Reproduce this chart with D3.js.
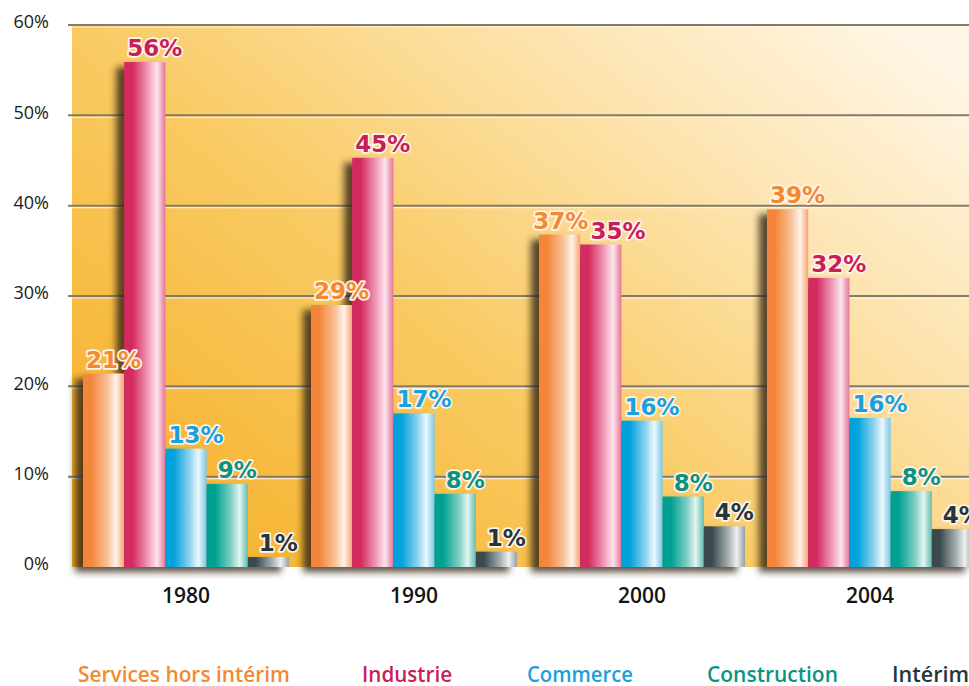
<!DOCTYPE html>
<html>
<head>
<meta charset="utf-8">
<script src="https://cdn.jsdelivr.net/npm/d3@7"></script>
<style>
  body { margin: 0; background: #fff; }
  svg { display: block; }
</style>
</head>
<body>
<svg id="chart"></svg>
<script>
// data
const years = ['1980', '1990', '2000', '2004'];
const series = ['Services hors intérim', 'Industrie', 'Commerce', 'Construction', 'Intérim'];
const services = [21.4, 29.0, 36.8, 39.6];
const industrie = [55.9, 45.3, 35.7, 32.0];
const commerce = [13.1, 17.0, 16.2, 16.5];
const construction = [9.2, 8.1, 7.8, 8.4];
const interim = [1.1, 1.7, 4.5, 4.2];
const valueLabels = [
  ['21%', '56%', '13%', '9%', '1%'],
  ['29%', '45%', '17%', '8%', '1%'],
  ['37%', '35%', '16%', '8%', '4%'],
  ['39%', '32%', '16%', '8%', '4%']
];
const yTicks = [0, 10, 20, 30, 40, 50, 60];

// colours per series: [dark, mid, highlight, edge, text]
const palette = [
  ['#f3863a', '#f9bf95', '#fff3ea', '#f6a374', '#f28a30'],
  ['#d3295f', '#f19bb9', '#fde6ee', '#e57496', '#c81f58'],
  ['#00a2db', '#8ad1ee', '#ebf8fd', '#78c8e8', '#1aa0da'],
  ['#00a191', '#79cdc1', '#e3f5f1', '#62bdb0', '#0b9382'],
  ['#3a4a4f', '#a2acae', '#eef0f0', '#96a0a2', '#24363c']
];

const table = years.map((y, i) => ({
  year: y,
  values: [services[i], industrie[i], commerce[i], construction[i], interim[i]]
    .map((v, j) => ({ key: series[j], idx: j, value: v, label: valueLabels[i][j] }))
}));

const W = 969, H = 686;
const plot = { left: 72, right: 969, top: 25, bottom: 567 };

const svg = d3.select('#chart').attr('width', W).attr('height', H);
const defs = svg.append('defs');

// background gradient of the plot panel
const bg = defs.append('linearGradient').attr('id', 'bg')
  .attr('x1', 0).attr('y1', 0.85).attr('x2', 1).attr('y2', 0.1);
bg.append('stop').attr('offset', 0).attr('stop-color', '#f6b12b');
bg.append('stop').attr('offset', 0.4).attr('stop-color', '#f9ca62');
bg.append('stop').attr('offset', 0.75).attr('stop-color', '#fde5b3');
bg.append('stop').attr('offset', 1).attr('stop-color', '#fff6e6');

// cylinder-like gradients for the bars
palette.forEach((c, i) => {
  const g = defs.append('linearGradient').attr('id', 'bar' + i)
    .attr('x1', 0).attr('y1', 0).attr('x2', 1).attr('y2', 0);
  g.append('stop').attr('offset', 0).attr('stop-color', c[0]);
  g.append('stop').attr('offset', 0.2).attr('stop-color', c[0]);
  g.append('stop').attr('offset', 0.58).attr('stop-color', c[1]);
  g.append('stop').attr('offset', 0.8).attr('stop-color', c[2]);
  g.append('stop').attr('offset', 1).attr('stop-color', c[3]);
});

// drop shadow falling to the lower left
const f = defs.append('filter').attr('id', 'shadow')
  .attr('x', -0.2).attr('y', -0.1).attr('width', 1.4).attr('height', 1.3);
f.append('feDropShadow')
  .attr('dx', -8).attr('dy', 5).attr('stdDeviation', 3.5)
  .attr('flood-color', '#2e2008').attr('flood-opacity', 0.8);

// scales
const y = d3.scaleLinear().domain([0, 60]).range([plot.bottom, plot.top]);
const x0 = d3.scaleBand().domain(years).range([83, 973])
  .paddingInner(22 / 228).paddingOuter(0);
const x1 = d3.scaleBand().domain(series).range([0, x0.bandwidth()]);

// panel
svg.append('rect')
  .attr('x', plot.left).attr('y', plot.top)
  .attr('width', plot.right - plot.left).attr('height', plot.bottom - plot.top)
  .attr('fill', 'url(#bg)');

// gridlines
const grid = svg.append('g').attr('class', 'grid');
grid.selectAll('line.hl')
  .data(yTicks.filter(d => d > 0))
  .join('line').attr('class', 'hl')
  .attr('x1', 68).attr('x2', plot.right)
  .attr('y1', d => y(d) + 2).attr('y2', d => y(d) + 2)
  .attr('stroke', '#fff8e8').attr('stroke-opacity', 0.8).attr('stroke-width', 1.2);
grid.selectAll('line.gl')
  .data(yTicks.filter(d => d > 0))
  .join('line').attr('class', 'gl')
  .attr('x1', 68).attr('x2', plot.right)
  .attr('y1', d => y(d)).attr('y2', d => y(d))
  .attr('stroke', '#857b6a').attr('stroke-width', 2);

// y axis labels
const yAxis = d3.axisLeft(y).tickValues(yTicks).tickSize(0).tickPadding(0)
  .tickFormat(d => d + '%');
const yAxisG = svg.append('g')
  .attr('transform', 'translate(49,-3)')
  .call(yAxis);
yAxisG.select('.domain').remove();
yAxisG.selectAll('text')
  .attr('fill', '#1a1a1a')
  .style('font-family', '"Open Sans", sans-serif')
  .style('font-size', '18px');

// bars
const groups = svg.append('g').selectAll('g.year')
  .data(table)
  .join('g').attr('class', 'year')
  .attr('transform', d => `translate(${x0(d.year)},0)`)
  .attr('filter', 'url(#shadow)');

groups.selectAll('rect')
  .data(d => d.values)
  .join('rect')
  .attr('x', d => x1(d.key))
  .attr('y', d => y(d.value))
  .attr('width', x1.bandwidth())
  .attr('height', d => y(0) - y(d.value))
  .attr('fill', d => `url(#bar${d.idx})`);

// value labels
const labelG = svg.append('g').selectAll('g')
  .data(table)
  .join('g')
  .attr('transform', d => `translate(${x0(d.year)},0)`);

labelG.each(function (d) {
  const g = d3.select(this);
  const items = d.values.map(v => ({
    v, cx: x1(v.key) + x1.bandwidth() / 2 + 10, by: y(v.value) - 6
  }));
  const texts = g.selectAll('text')
    .data(items)
    .join('text')
    .attr('text-anchor', 'middle')
    .attr('fill', t => palette[t.v.idx][4])
    .attr('stroke', '#fff3ea')
    .attr('stroke-width', 3.5)
    .attr('stroke-linejoin', 'round')
    .attr('paint-order', 'stroke')
    .style('font-family', '"DejaVu Sans", sans-serif')
    .style('font-weight', 'bold')
    .style('font-size', '23px')
    .text(t => t.v.label);
  // push apart neighbours that collide
  const widths = texts.nodes().map(n => n.getComputedTextLength());
  for (let i = 1; i < items.length; i++) {
    const a = items[i - 1], b = items[i];
    const overlapX = (a.cx + widths[i - 1] / 2) - (b.cx - widths[i] / 2) + 2;
    if (overlapX > 0 && Math.abs(a.by - b.by) < 20) {
      a.cx -= overlapX * 0.55;
      b.cx += overlapX * 0.45;
    }
  }
  texts.attr('x', t => t.cx).attr('y', t => t.by);
});

// year labels
const xAxis = d3.axisBottom(x0).tickSize(0).tickPadding(0);
const xAxisG = svg.append('g')
  .attr('transform', `translate(0,${plot.bottom + 20})`)
  .call(xAxis);
xAxisG.select('.domain').remove();
xAxisG.selectAll('text')
  .attr('fill', '#141414')
  .attr('dy', '0.78em')
  .style('font-family', '"Open Sans", sans-serif')
  .style('font-weight', 600)
  .style('font-size', '21px');

// legend (condensed type, squeezed to the reference widths)
const legendX = [78, 362, 527, 707, 892];
const legendWidths = [212, 90, 106, 131, 77];
const legend = svg.append('g').attr('class', 'legend');
series.forEach((s, i) => {
  legend.append('text')
    .attr('x', legendX[i]).attr('y', 682)
    .attr('fill', palette[i][4])
    .attr('textLength', legendWidths[i])
    .attr('lengthAdjust', 'spacingAndGlyphs')
    .style('font-family', '"Open Sans", sans-serif')
    .style('font-weight', 600)
    .style('font-size', '22px')
    .text(s);
});
</script>
</body>
</html>
